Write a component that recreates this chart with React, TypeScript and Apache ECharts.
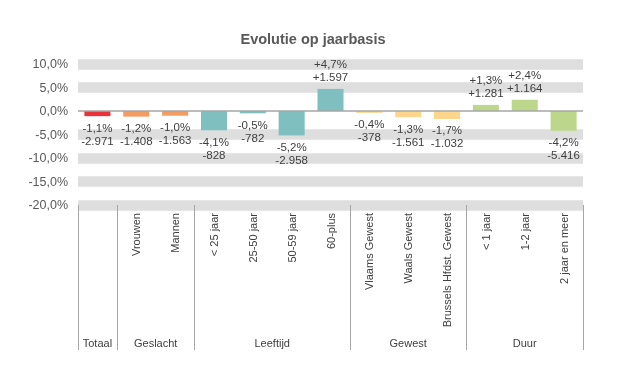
import React, { useEffect, useRef } from "react";
import * as echarts from "echarts";

const categories = [
  "Totaal",
  "Vrouwen",
  "Mannen",
  "< 25 jaar",
  "25-50 jaar",
  "50-59 jaar",
  "60-plus",
  "Vlaams Gewest",
  "Waals Gewest",
  "Brussels Hfdst. Gewest",
  "< 1 jaar",
  "1-2 jaar",
  "2 jaar en meer",
];
const percentChange = [-1.1, -1.2, -1.0, -4.1, -0.5, -5.2, 4.7, -0.4, -1.3, -1.7, 1.3, 2.4, -4.2];
const absoluteChange = [-2971, -1408, -1563, -828, -782, -2958, 1597, -378, -1561, -1032, 1281, 1164, -5416];
const groupNames = ["Totaal", "Geslacht", "Leeftijd", "Gewest", "Duur"];
const groupOfCategory = [0, 1, 1, 2, 2, 2, 2, 3, 3, 3, 4, 4, 4];
const yTickValues = [-20, -15, -10, -5, 0, 5, 10];

const groupColors = ["#e8333b", "#f29b63", "#80bfbf", "#fdd68b", "#bcd78b"];

const fmtPct = (v: number) =>
  (v > 0 ? "+" : v < 0 ? "-" : "") + Math.abs(v).toFixed(1).replace(".", ",") + "%";
const fmtNum = (v: number) => {
  const s = Math.abs(v)
    .toString()
    .replace(/\B(?=(\d{3})+(?!\d))/g, ".");
  return (v > 0 ? "+" : v < 0 ? "-" : "") + s;
};

export default function App() {
  const ref = useRef<HTMLDivElement>(null);
  useEffect(() => {
    if (!ref.current) return;
    const chart = echarts.init(ref.current, undefined, { renderer: "svg" });
    const boundaries: number[] = [];
    groupOfCategory.forEach((g, i) => {
      if (i === 0 || groupOfCategory[i - 1] !== g) boundaries.push(i);
    });
    const yMin = yTickValues[0];
    const yMax = yTickValues[yTickValues.length - 1];
    const step = yTickValues[1] - yTickValues[0];
    const bandColors = yTickValues.map((v) => (v === 0 ? "rgba(0,0,0,0)" : "#dedede"));
    const font = "Liberation Sans, Arial, sans-serif";

    chart.setOption({
      animation: false,
      title: {
        text: "Evolutie op jaarbasis",
        left: "center",
        top: 26,
        textStyle: { fontFamily: font, fontSize: 14.5, fontWeight: "bold", color: "#595959" },
      },
      grid: { left: 78, right: 43, top: 64, bottom: 187 },
      xAxis: {
        type: "category",
        data: categories,
        position: "bottom",
        axisLine: { show: false, onZero: false },
        axisTick: {
          show: true,
          interval: (index: number) => boundaries.includes(index),
          length: 145,
          lineStyle: { color: "#a6a6a6", width: 1 },
        },
        axisLabel: {
          interval: 0,
          rotate: 90,
          margin: 8,
          fontFamily: font,
          fontSize: 11,
          color: "#404040",
          formatter: (v: string, i: number) => (groupOfCategory[i] === 0 ? "" : v),
        },
      },
      yAxis: {
        type: "value",
        min: yMin,
        max: yMax,
        interval: step,
        axisLine: { show: false },
        axisTick: { show: false },
        axisLabel: {
          margin: 10,
          fontFamily: font,
          fontSize: 12.5,
          color: "#595959",
          formatter: (v: number) => v.toFixed(1).replace(".", ",") + "%",
        },
        splitLine: { show: true, lineStyle: { color: bandColors, width: 10.5 } },
      },
      series: [
        {
          type: "bar",
          barWidth: "67%",
          data: percentChange.map((v, i) => ({
            value: v,
            itemStyle: { color: groupColors[groupOfCategory[i]] },
            label: { position: v < 0 ? "bottom" : "top" },
          })),
          label: {
            show: true,
            distance: 5,
            fontFamily: font,
            fontSize: 11.5,
            lineHeight: 13,
            color: "#404040",
            formatter: (p: any) => fmtPct(percentChange[p.dataIndex]) + "\n" + fmtNum(absoluteChange[p.dataIndex]),
          },
          markLine: {
            silent: true,
            symbol: "none",
            label: { show: false },
            lineStyle: { color: "#a6a6a6", width: 1.5, type: "solid" },
            data: [{ yAxis: 0 }],
          },
        },
      ],
    });

    // group labels, centered under each group's categories
    const labelY = 343;
    const graphics = groupNames.map((name, g) => {
      const idx = groupOfCategory.map((gg, i) => (gg === g ? i : -1)).filter((i) => i >= 0);
      const x0 = chart.convertToPixel({ xAxisIndex: 0 }, idx[0]) as number;
      const x1 = chart.convertToPixel({ xAxisIndex: 0 }, idx[idx.length - 1]) as number;
      return {
        type: "text",
        x: (x0 + x1) / 2,
        y: labelY,
        style: {
          text: name,
          align: "center",
          verticalAlign: "middle",
          fontFamily: font,
          fontSize: 11,
          fill: "#404040",
        },
      };
    });
    chart.setOption({ graphic: graphics });

    return () => chart.dispose();
  }, []);
  return (
    <div
      ref={ref}
      style={{ position: "fixed", left: 0, top: 0, width: 626, height: 392 }}
    />
  );
}
